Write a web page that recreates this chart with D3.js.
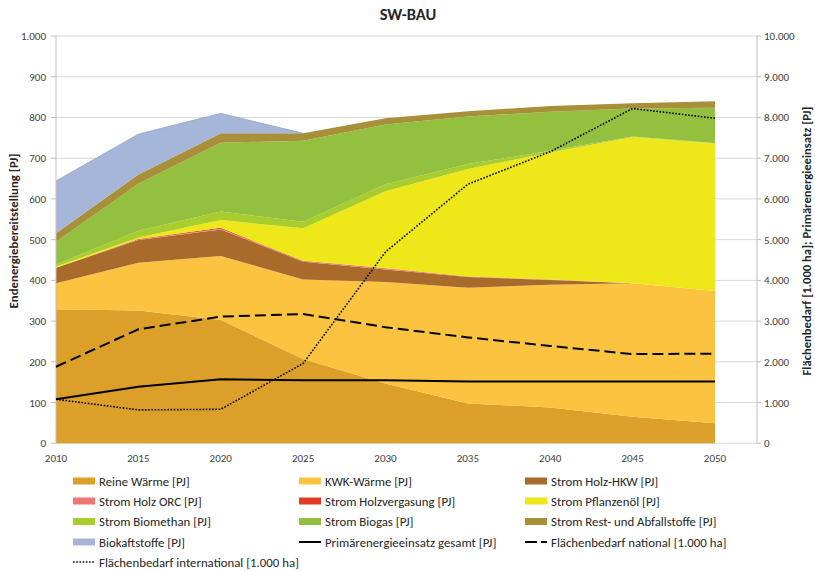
<!DOCTYPE html>
<html><head><meta charset="utf-8">
<script src="https://cdn.jsdelivr.net/npm/d3@7/dist/d3.min.js"></script>
<style>body{margin:0;background:#fff}svg{display:block}</style>
</head><body>
<svg id="chart" width="815" height="571"></svg>
<script>
// ---------- data ----------
const years = [2010, 2015, 2020, 2025, 2030, 2035, 2040, 2045, 2050];
const reineWaerme      = [329, 326, 303, 207, 147, 98, 88, 65, 49];
const kwkWaerme        = [64, 117, 157, 195, 249, 284, 301, 328, 325];
const stromHolzHKW     = [38, 56, 65, 44, 31, 26, 12, 0, 0];
const stromHolzORC     = [0, 1.5, 2, 1, 1.5, 1, 1, 0, 0];
const stromHolzverg    = [0, 1, 2, 1, 1.5, 0.5, 0, 0, 0];
const stromPflanzenoel = [3, 3.5, 19, 80, 189, 264, 312, 359, 362];
const stromBiomethan   = [5, 17, 21, 16, 17, 12, 4, 1, 1];
const stromBiogas      = [56, 115, 169, 199, 147, 117, 96, 69, 87];
const stromRest        = [21, 23, 23, 18, 15, 13, 14, 13, 16];
const biokraftstoffe   = [128, 99, 49, 0, 0, 0, 0, 0, 0];
const primaerenergie   = [1080, 1390, 1570, 1550, 1545, 1520, 1520, 1520, 1520];
const flaecheNational  = [1880, 2800, 3110, 3175, 2850, 2600, 2390, 2190, 2200];
const flaecheInternat  = [1080, 820, 835, 1960, 4700, 6360, 7160, 8220, 7980];
const leftTicks  = [0,100,200,300,400,500,600,700,800,900,1000];
const rightTicks = [0,1000,2000,3000,4000,5000,6000,7000,8000,9000,10000];

const areaNames = ["Reine Wärme [PJ]","KWK-Wärme [PJ]","Strom Holz-HKW [PJ]","Strom Holz ORC [PJ]",
  "Strom Holzvergasung [PJ]","Strom Pflanzenöl [PJ]","Strom Biomethan [PJ]","Strom Biogas [PJ]",
  "Strom Rest- und Abfallstoffe [PJ]","Biokaftstoffe [PJ]"];
const areaSeries = [reineWaerme,kwkWaerme,stromHolzHKW,stromHolzORC,stromHolzverg,stromPflanzenoel,
  stromBiomethan,stromBiogas,stromRest,biokraftstoffe];
const areaColors = ["#DCA02A","#FBC33F","#A96B2B","#F27575","#E23B22","#EEE81A","#AACD2E","#93C03E","#A8903A","#A6B6D8"];
const lineNames = ["Primärenergieeinsatz gesamt [PJ]","Flächenbedarf national [1.000 ha]","Flächenbedarf international [1.000 ha]"];
const lineSeries = [primaerenergie, flaecheNational, flaecheInternat];

// ---------- layout ----------
const svg = d3.select("#chart");
const font = "Carlito, 'Liberation Sans Narrow', 'Liberation Sans', sans-serif";
const x0 = 56, xEnd = 715, xAxisR = 757;
const yTop = 36, yBot = 443.3;
const x = d3.scaleLinear().domain([2010, 2050]).range([x0, xEnd]);
const yL = d3.scaleLinear().domain([0, 1000]).range([yBot, yTop]);
const yR = d3.scaleLinear().domain([0, 10000]).range([yBot, yTop]);
const fmt = d3.formatLocale({decimal: ",", thousands: ".", grouping: [3], currency: ["", "€"]}).format(",");

// gridlines
svg.append("g").selectAll("line").data(leftTicks).join("line")
  .attr("x1", x0).attr("x2", xAxisR)
  .attr("y1", d => yL(d)).attr("y2", d => yL(d))
  .attr("stroke", "#d9d9d9").attr("stroke-width", 1);

// stacked areas
const table = years.map((yr, i) => {
  const o = {year: yr};
  areaNames.forEach((n, k) => o[n] = areaSeries[k][i]);
  return o;
});
const stack = d3.stack().keys(areaNames)(table);
const area = d3.area().x(d => x(d.data.year)).y0(d => yL(d[0])).y1(d => yL(d[1]));
svg.append("g").selectAll("path").data(stack).join("path")
  .attr("d", area).attr("fill", (d, i) => areaColors[i]);
// thin outline on biofuel top
const bioTop = d3.line().x(d => x(d.data.year)).y(d => yL(d[1]));
svg.append("path").datum(stack[9].slice(0, 4)).attr("d", bioTop)
  .attr("fill", "none").attr("stroke", "#8f9fc4").attr("stroke-width", 0.8);

// left axis line + ticks
svg.append("line").attr("x1", x0).attr("x2", x0).attr("y1", yTop).attr("y2", yBot)
  .attr("stroke", "#bfbfbf");
svg.append("g").selectAll("line").data(leftTicks).join("line")
  .attr("x1", x0 - 5).attr("x2", x0).attr("y1", d => yL(d)).attr("y2", d => yL(d))
  .attr("stroke", "#bfbfbf");
// right axis line + ticks
svg.append("line").attr("x1", xAxisR).attr("x2", xAxisR).attr("y1", yTop).attr("y2", yBot)
  .attr("stroke", "#bfbfbf");
svg.append("g").selectAll("line").data(rightTicks).join("line")
  .attr("x1", xAxisR).attr("x2", xAxisR + 4).attr("y1", d => yR(d)).attr("y2", d => yR(d))
  .attr("stroke", "#bfbfbf");

// lines
const line = d3.line().x((d, i) => x(years[i])).y(d => yR(d));
const lineStyles = [
  {w: 2, dash: null},
  {w: 2, dash: "11,5"},
  {w: 1.6, dash: "1.6,1.6"}
];
lineSeries.forEach((s, k) => {
  svg.append("path").datum(s).attr("d", line).attr("fill", "none")
    .attr("stroke", "#000").attr("stroke-width", lineStyles[k].w)
    .attr("stroke-dasharray", lineStyles[k].dash);
});

// tick labels
svg.append("g").selectAll("text").data(leftTicks).join("text")
  .attr("x", 46).attr("y", d => yL(d) + 4).attr("text-anchor", "end")
  .attr("font-family", font).attr("font-size", 11).attr("fill", "#404040")
  .text(d => fmt(d));
svg.append("g").selectAll("text").data(rightTicks).join("text")
  .attr("x", 764).attr("y", d => yR(d) + 4).attr("text-anchor", "start")
  .attr("font-family", font).attr("font-size", 11).attr("fill", "#404040")
  .text(d => fmt(d));
svg.append("g").selectAll("text").data(years).join("text")
  .attr("x", d => x(d)).attr("y", 461.5).attr("text-anchor", "middle")
  .attr("font-family", font).attr("font-size", 11).attr("fill", "#404040")
  .text(d => d);

// titles
svg.append("text").attr("x", 408).attr("y", 19.5).attr("text-anchor", "middle")
  .attr("font-family", font).attr("font-size", 16.5).attr("font-weight", "bold").attr("fill", "#262626")
  .text("SW-BAU");
svg.append("text").attr("transform", "translate(18,231) rotate(-90)").attr("text-anchor", "middle")
  .attr("font-family", font).attr("font-size", 12.8).attr("font-weight", "bold").attr("fill", "#262626")
  .text("Endenergiebereitstellung [PJ]");
svg.append("text").attr("transform", "translate(811,241) rotate(-90)").attr("text-anchor", "middle")
  .attr("font-family", font).attr("font-size", 12.6).attr("font-weight", "bold").attr("fill", "#262626")
  .text("Flächenbedarf [1.000 ha]; Primärenergieeinsatz [PJ]");

// legend
const colX = [73, 299, 525];
const rowY = [481, 501, 521.5, 542, 562];
const legendItems = areaNames.map((n, i) => ({name: n, type: "area", color: areaColors[i]}))
  .concat(lineNames.map((n, i) => ({name: n, type: "line", style: lineStyles[i]})));
const lg = svg.append("g");
legendItems.forEach((it, i) => {
  const cx = colX[i % 3], cy = rowY[Math.floor(i / 3)];
  if (it.type === "area") {
    lg.append("rect").attr("x", cx).attr("y", cy - 3.5).attr("width", 22).attr("height", 7).attr("fill", it.color);
  } else {
    lg.append("line").attr("x1", cx).attr("x2", cx + 22).attr("y1", cy).attr("y2", cy)
      .attr("stroke", "#000").attr("stroke-width", it.style.w)
      .attr("stroke-dasharray", it.style.dash ? (i === 11 ? "12,4" : "1.6,1.6") : null);
  }
  lg.append("text").attr("x", cx + 26).attr("y", cy + 4.5)
    .attr("font-family", font).attr("font-size", 12.8).attr("fill", "#262626").text(it.name);
});
</script>
</body></html>
